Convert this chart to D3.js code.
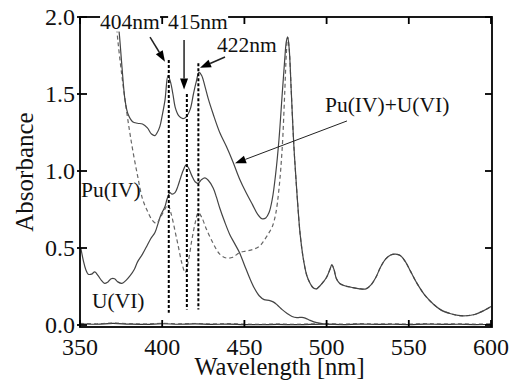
<!DOCTYPE html>
<html><head><meta charset="utf-8">
<script src="https://cdn.jsdelivr.net/npm/d3@7/dist/d3.min.js"></script>
<style>body{margin:0;background:#fff}svg{display:block}</style>
</head><body>
<svg id="chart" width="519" height="387"></svg>
<script>
// ---- data ----
const xTicks = [350, 400, 450, 500, 550, 600];
const yTicks = [0.0, 0.5, 1.0, 1.5, 2.0];
const xTickLabels = ["350", "400", "450", "500", "550", "600"];
const yTickLabels = ["0.0", "0.5", "1.0", "1.5", "2.0"];

// Pu(IV)+U(VI) (solid, upper)
const mixWl = [373,374,375.5,377.4,379.2,382,385,388,391,393.5,395.6,397,398.6,400,401.7,403.5,405,406.5,408,410,412.6,414.5,417,419,420.5,422.4,424,426,428,431,435,439,443,447,451,455,458,460.7,463,465,467,469,471,473,474.5,475.5,476.3,477.2,478.5,480,482,484,486,488,490,492,494,496,498,500,502,503.2,504.5,506,508,511,515,520,524,527,530,533,536,539,542,545,548,551,555,560,565,570,575,580,585,590,595,600];
const mixAbs = [1.98,1.88,1.68,1.46,1.37,1.32,1.31,1.305,1.28,1.24,1.23,1.25,1.29,1.36,1.46,1.62,1.58,1.50,1.41,1.36,1.34,1.35,1.40,1.50,1.57,1.64,1.62,1.55,1.47,1.37,1.25,1.16,1.06,0.95,0.86,0.78,0.72,0.69,0.695,0.73,0.82,0.98,1.2,1.5,1.72,1.84,1.87,1.80,1.52,1.18,0.85,0.58,0.42,0.32,0.27,0.24,0.235,0.255,0.28,0.31,0.36,0.39,0.36,0.30,0.27,0.255,0.245,0.235,0.235,0.26,0.31,0.38,0.43,0.455,0.46,0.45,0.41,0.35,0.27,0.19,0.135,0.095,0.075,0.062,0.06,0.068,0.09,0.12];

// Pu(IV) (dashed)
const puWl = [372,373,375,377.4,380,382,385,388,391,394,396.5,399,401.5,403.5,405.5,408,410,412,414,416,418,420,422,424,427,431,435,439,443,447,451,455,459,462,465,467,469,471,473,474.5,475.5,476.3,477.2,478.5,480,482,484,486,488,490,492,494,496,498,500,502,503.2,504.5,506,508,511,515,520,524,527,530,533,536,539,542,545,548,551,555,560,565,570,575,580,585,590,595,600];
const puAbs = [1.97,1.85,1.66,1.46,1.27,1.14,0.97,0.82,0.74,0.68,0.66,0.70,0.75,0.78,0.72,0.60,0.50,0.40,0.34,0.42,0.55,0.66,0.73,0.70,0.62,0.53,0.46,0.435,0.44,0.47,0.48,0.49,0.51,0.55,0.60,0.64,0.72,0.88,1.15,1.5,1.76,1.87,1.80,1.52,1.18,0.85,0.58,0.42,0.32,0.27,0.24,0.235,0.255,0.28,0.31,0.36,0.39,0.36,0.30,0.27,0.255,0.245,0.235,0.235,0.26,0.31,0.38,0.43,0.455,0.46,0.45,0.41,0.35,0.27,0.19,0.135,0.095,0.075,0.062,0.06,0.068,0.09,0.12];

// U(VI) (solid, lower)
const uWl = [350.5,352,353.5,355,357,359,361,363,365,367,369,371,373,375.5,378,380.5,383,385,388,391,393,395.6,397.5,399,401.7,403,404.7,406,407.8,409.5,411,413,414.5,416,418,420,421.8,424,426,428,431,433,435,438,441,444,447,450,453,456,459,462,465,467.5,470,473,476,479,482,485,487,490,494,498,502,506];
const uAbs = [0.50,0.42,0.36,0.33,0.33,0.345,0.32,0.29,0.27,0.28,0.30,0.30,0.28,0.27,0.29,0.32,0.36,0.41,0.46,0.52,0.56,0.60,0.66,0.71,0.77,0.82,0.86,0.85,0.86,0.90,0.95,1.01,1.04,1.02,0.97,0.93,0.92,0.945,0.955,0.94,0.89,0.83,0.76,0.67,0.59,0.53,0.47,0.39,0.31,0.24,0.19,0.165,0.16,0.15,0.13,0.10,0.075,0.055,0.048,0.05,0.045,0.03,0.015,0.008,0.005,0.004];

// near-zero baseline
const baseWl = [350,360,370,380,390,400,410,420,430,440,450,460,470,480,490,500,510,520,530,540,550,560,570,580,590,600];
const baseAbs = [0.008,0.005,0.010,0.006,0.004,0.008,0.005,0.007,0.004,0.006,0.003,0.002,0.004,0.002,0.004,0.005,0.003,0.006,0.004,0.005,0.003,0.006,0.004,0.005,0.003,0.005];

// vertical marker lines
const markWl = [404, 415, 422];
const markTop = [1.72, 1.50, 1.70];
const markBot = [0.08, 0.10, 0.10];

// annotation labels
const labelText = ["404nm", "415nm", "422nm", "Pu(IV)+U(VI)", "Pu(IV)", "U(VI)"];
const labelWl   = [362.2, 403.6, 433.3, 499, 350.6, 357.3];
const labelAbs  = [1.925, 1.925, 1.77, 1.383, 0.83, 0.11];
// arrows (from -> to) in data units
const arrowFromWl = [392.6, 413.3, 438.2, 512.4];
const arrowFromAbs = [1.87, 1.85, 1.74, 1.325];
const arrowToWl = [401.7, 413.3, 423.0, 444.3];
const arrowToAbs = [1.71, 1.53, 1.67, 1.05];

// ---- drawing ----
const svg = d3.select("#chart");
const L = 80, R = 491, T = 17, B = 325, BF = 327;
const x = d3.scaleLinear().domain([350, 600]).range([L, R]);
const y = d3.scaleLinear().domain([0, 2]).range([B, T]);
const FONT = '"Liberation Serif"';

const zip = (a, b) => a.map((v, i) => [v, b[i]]);
const line = d3.line().x(d => x(d[0])).y(d => y(d[1])).curve(d3.curveCatmullRom.alpha(0.5));

const gPlot = svg.append("g");
gPlot.append("path").attr("d", line(zip(baseWl, baseAbs))).attr("fill", "none").attr("stroke", "#333").attr("stroke-width", 1.2);
gPlot.append("path").attr("d", line(zip(baseWl, baseAbs.map(v => v + 0.003)))).attr("fill", "none").attr("stroke", "#555").attr("stroke-width", 1).attr("stroke-dasharray", "4,3");
gPlot.append("path").attr("d", line(zip(uWl, uAbs))).attr("fill", "none").attr("stroke", "#444").attr("stroke-width", 1.2);
gPlot.append("path").attr("d", line(zip(puWl, puAbs))).attr("fill", "none").attr("stroke", "#666").attr("stroke-width", 1.2).attr("stroke-dasharray", "4,3");
gPlot.append("path").attr("d", line(zip(mixWl, mixAbs))).attr("fill", "none").attr("stroke", "#444").attr("stroke-width", 1.2);

markWl.forEach((w, i) => {
  gPlot.append("line").attr("x1", x(w)).attr("x2", x(w)).attr("y1", y(markTop[i])).attr("y2", y(markBot[i]))
    .attr("stroke", "#000").attr("stroke-width", 2).attr("stroke-dasharray", "3,2");
});

// frame & ticks
const gAx = svg.append("g");
gAx.append("rect").attr("x", L).attr("y", T).attr("width", R - L + 1).attr("height", BF - T)
  .attr("fill", "none").attr("stroke", "#000").attr("stroke-width", 1.8);
const tl = 7;
xTicks.forEach(t => {
  gAx.append("line").attr("x1", x(t)).attr("x2", x(t)).attr("y1", BF).attr("y2", BF - tl).attr("stroke", "#000").attr("stroke-width", 1.8);
  gAx.append("line").attr("x1", x(t)).attr("x2", x(t)).attr("y1", T).attr("y2", T + tl).attr("stroke", "#000").attr("stroke-width", 1.8);
});
yTicks.forEach(t => {
  gAx.append("line").attr("x1", L - 3).attr("x2", L + tl).attr("y1", y(t)).attr("y2", y(t)).attr("stroke", "#000").attr("stroke-width", 1.8);
  gAx.append("line").attr("x1", R + 1).attr("x2", R + 1 - tl).attr("y1", y(t)).attr("y2", y(t)).attr("stroke", "#000").attr("stroke-width", 1.8);
});
xTicks.forEach((t, i) => {
  gAx.append("text").attr("x", x(t)).attr("y", 355).attr("text-anchor", "middle")
    .style("font-family", FONT).attr("font-size", 24).attr("fill", "#111").text(xTickLabels[i]);
});
yTicks.forEach((t, i) => {
  gAx.append("text").attr("x", 75).attr("y", y(t)).attr("dy", "0.34em").attr("text-anchor", "end")
    .style("font-family", FONT).attr("font-size", 24).attr("fill", "#111").text(yTickLabels[i]);
});
gAx.append("text").attr("x", (L + R) / 2 - 6).attr("y", 375).attr("text-anchor", "middle")
  .style("font-family", FONT).attr("font-size", 24.5).attr("fill", "#111").text("Wavelength [nm]");
gAx.append("text").attr("transform", "translate(33,172) rotate(-90)").attr("text-anchor", "middle")
  .style("font-family", FONT).attr("font-size", 25).attr("fill", "#111").text("Absorbance");

// annotations
const gAnn = svg.append("g");
labelText.forEach((s, i) => {
  const t = gAnn.append("text").attr("x", x(labelWl[i])).attr("y", y(labelAbs[i]))
    .style("font-family", FONT).attr("font-size", 21.5).attr("fill", "#111").text(s);
  if (i < 2) {
    const bb = t.node().getBBox();
    gAnn.insert("rect", "text").attr("x", bb.x).attr("y", bb.y + 2).attr("width", bb.width).attr("height", bb.height - 4).attr("fill", "#fff");
  }
});
arrowFromWl.forEach((w, i) => {
  const x1 = x(w), y1 = y(arrowFromAbs[i]), x2 = x(arrowToWl[i]), y2 = y(arrowToAbs[i]);
  const ang = Math.atan2(y2 - y1, x2 - x1);
  const hl = 11, hw = 4;
  const bx = x2 - hl * Math.cos(ang), by = y2 - hl * Math.sin(ang);
  gAnn.append("line").attr("x1", x1).attr("y1", y1).attr("x2", bx).attr("y2", by).attr("stroke", "#222").attr("stroke-width", i === 3 ? 1 : 1.5);
  const px = -Math.sin(ang) * hw, py = Math.cos(ang) * hw;
  gAnn.append("path").attr("d", `M${x2},${y2}L${bx + px},${by + py}L${bx - px},${by - py}Z`).attr("fill", "#000");
});
</script>
</body></html>
